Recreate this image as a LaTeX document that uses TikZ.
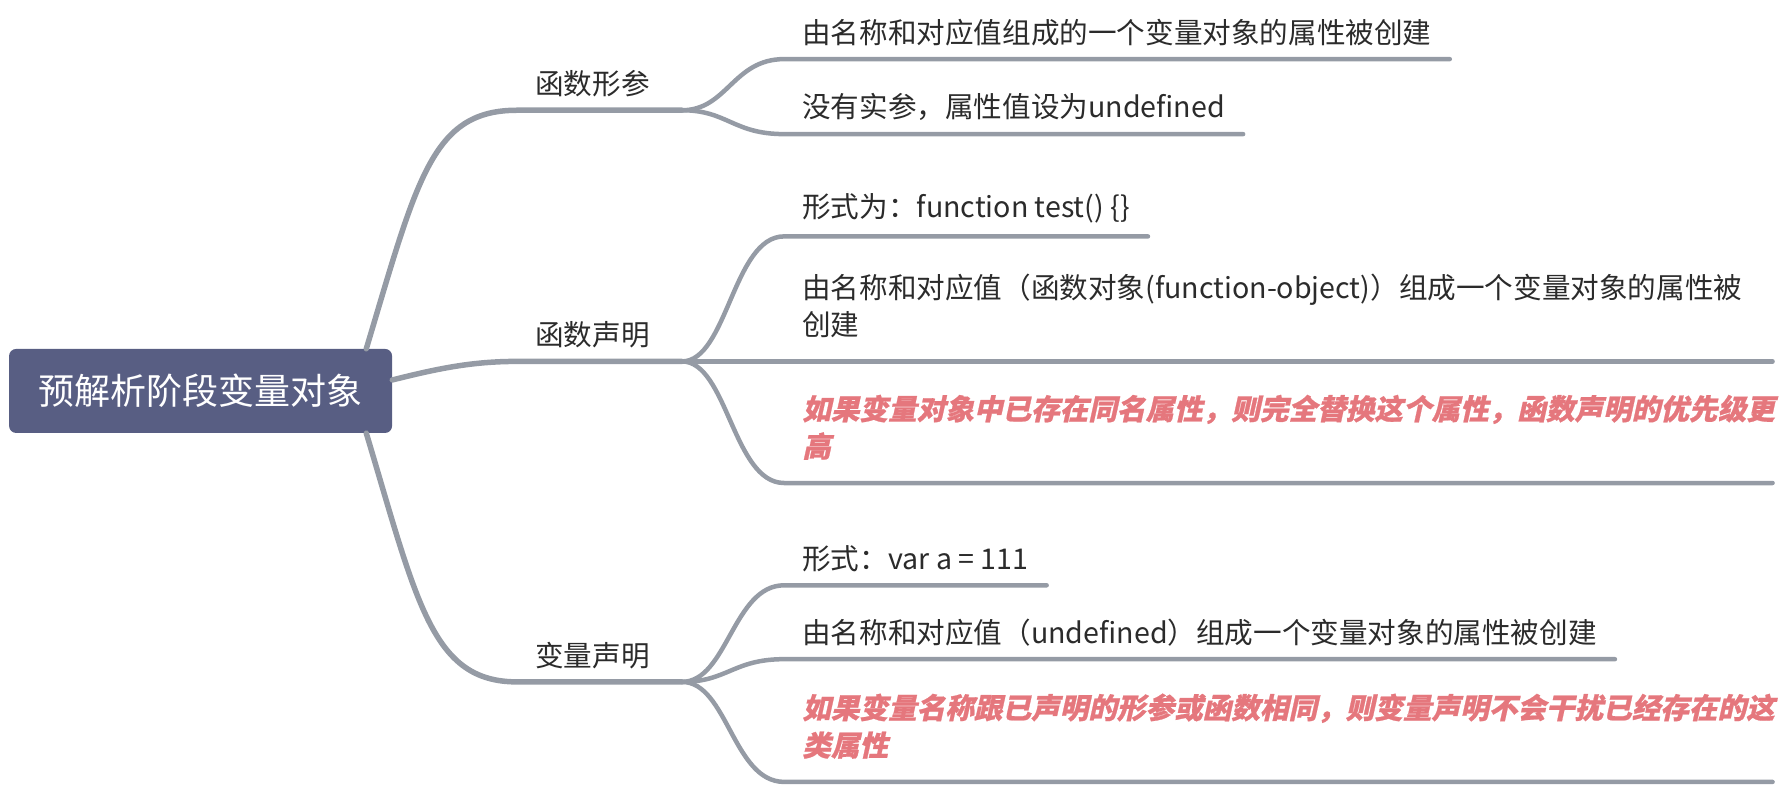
\documentclass[tikz,border=0pt]{standalone}
\usepackage{fontspec}
\setmainfont{Noto Sans CJK SC}
\newfontfamily\hotfont{Noto Sans CJK SC}[FakeSlant=0.22, BoldFeatures={FakeBold=0.8}]
\definecolor{linegray}{HTML}{959BA5}
\definecolor{rootblue}{HTML}{585E83}
\definecolor{hotred}{HTML}{E5777D}
\definecolor{textdark}{HTML}{2B2B2B}
\tikzset{
  branch/.style={draw=linegray, line width=5.5, line cap=round},
  twig/.style={draw=linegray, line width=4.5, line cap=round},
  topic/.style={anchor=south west, inner xsep=18, inner ysep=13, text=textdark,
    font=\fontsize{28.6}{37.5}\selectfont},
  leaf/.style={topic, align=left},
  long/.style={leaf, text width=952, inner ysep=23},
  hot/.style={long, text=hotred, font=\fontsize{28.6}{37.5}\selectfont\hotfont\bfseries}
}
\begin{document}
\begin{tikzpicture}[x=1.1365pt, y=-1.1365pt]
    \useasboundingbox (0,0) rectangle (1568,693.4);
    \node[fill=rootblue, rounded corners=7, minimum width=383, minimum height=84,
      text=white, font=\fontsize{36}{36}\selectfont] (root) at (176.5,344) {预解析阶段变量对象};
    % forks
    \coordinate (fxc) at (600,97);
    \coordinate (fsm) at (600,318);
    \coordinate (bsm) at (600,600);
    % first level
    \node[topic] (xc) at (455,97) {函数形参};
    \node[topic] (hs) at (455,318) {函数声明};
    \node[topic] (bl) at (455,600) {变量声明};
    \draw[branch] ([xshift=-26]root.north east) .. controls +(45,-150) and +(-75,0) .. (xc.south west) -- (fxc);
    \draw[branch] ([yshift=11]root.east) .. controls +(40,-10) and +(-40,0) .. (hs.south west) -- (fsm);
    \draw[branch] ([xshift=-26]root.south east) .. controls +(45,150) and +(-75,0) .. (bl.south west) -- (bsm);
    % 函数形参
    \node[leaf] (xc1) at (690,52) {由名称和对应值组成的一个变量对象的属性被创建};
    \node[leaf] (xc2) at (690,118) {没有实参，属性值设为undefined};
    \foreach \k in {xc1,xc2}{
      \draw[twig] (fxc) .. controls +(40,0) and +(-45,0) .. (\k.south west) -- (\k.south east);
    }
    % 函数声明
    \node[leaf] (hs1) at (690,208) {形式为：function test() \{\}};
    \node[long] (hs2) at (690,318) {由名称和对应值（函数对象(function-object)）组成一个变量对象的属性被\\创建};
    \node[hot] (hs3) at (690,425) {如果变量对象中已存在同名属性，则完全替换这个属性，函数声明的优先级更\\高};
    \foreach \k in {hs1,hs2,hs3}{
      \draw[twig] (fsm) .. controls +(40,0) and +(-45,0) .. (\k.south west) -- (\k.south east);
    }
    % 变量声明
    \node[leaf] (bl1) at (690,515) {形式：var a = 111};
    \node[leaf] (bl2) at (690,580) {由名称和对应值（undefined）组成一个变量对象的属性被创建};
    \node[hot] (bl3) at (690,688) {如果变量名称跟已声明的形参或函数相同，则变量声明不会干扰已经存在的这\\类属性};
    \foreach \k in {bl1,bl2,bl3}{
      \draw[twig] (bsm) .. controls +(40,0) and +(-45,0) .. (\k.south west) -- (\k.south east);
    }
  \end{tikzpicture}
\end{document}
